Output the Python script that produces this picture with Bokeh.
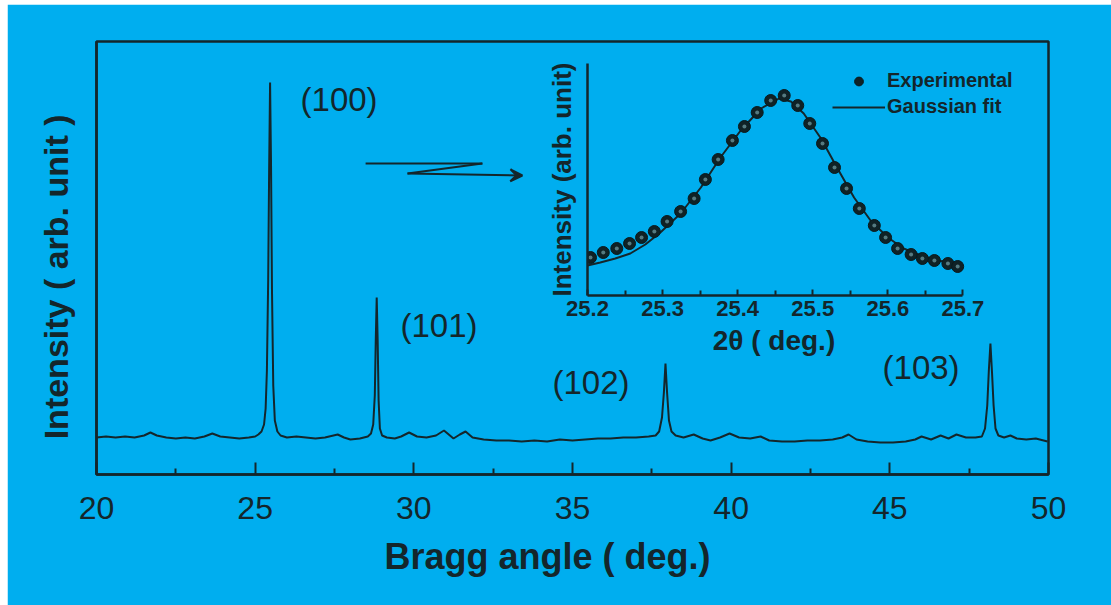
from bokeh.plotting import figure
from bokeh.models import Range1d, FixedTicker, Label, Arrow, VeeHead, Legend, LegendItem
from bokeh.layouts import column
from bokeh.embed import file_html
from bokeh.resources import INLINE

BG = "#00AEEF"
INK = "#14262b"
FONT = "Liberation Sans"
NB = "\u00a0"

# ---------------- main XRD pattern ----------------
two_theta = [20.0, 20.3, 20.6, 20.9, 21.2, 21.5, 21.7, 21.9, 22.2, 22.5, 22.8, 23.1, 23.4, 23.65,
             23.9, 24.2, 24.5, 24.8, 25.0, 25.1, 25.2, 25.28, 25.33, 25.37, 25.41, 25.44, 25.47,
             25.50, 25.53, 25.57, 25.62, 25.70, 25.80, 26.0, 26.3, 26.6, 26.9, 27.2, 27.6, 27.8,
             28.0, 28.3, 28.55, 28.65, 28.72, 28.77, 28.80, 28.83, 28.86, 28.89, 28.93, 29.0,
             29.15, 29.4, 29.6, 29.85, 30.1, 30.4, 30.7, 30.95, 31.25, 31.45, 31.63, 31.85, 32.2,
             32.6, 33.0, 33.4, 33.8, 34.2, 34.6, 35.0, 35.4, 35.8, 36.2, 36.6, 37.0, 37.4, 37.62,
             37.73, 37.82, 37.88, 37.93, 37.98, 38.04, 38.12, 38.25, 38.5, 38.82, 39.1, 39.35,
             39.65, 39.95, 40.25, 40.6, 40.93, 41.2, 41.6, 42.0, 42.4, 42.8, 43.2, 43.5, 43.7,
             43.95, 44.3, 44.7, 45.1, 45.5, 45.8, 46.0, 46.3, 46.6, 46.85, 47.1, 47.4, 47.7, 47.9,
             48.0, 48.07, 48.12, 48.17, 48.22, 48.27, 48.33, 48.42, 48.6, 48.8, 49.0, 49.3, 49.6,
             49.97]
intensity = [37, 38, 37, 38, 37, 39, 42, 39, 37, 36, 37, 36, 38, 41,
             38, 37, 36, 37, 38, 40, 43, 50, 66, 104, 194, 304, 392,
             309, 184, 89, 54, 43, 39, 37, 38, 37, 36, 37, 40, 37,
             35, 36, 38, 41, 50, 79, 134, 177, 134, 74, 46, 39,
             37, 36, 38, 42, 38, 37, 39, 44, 36, 40, 43, 37, 35,
             34, 34, 33, 34, 33, 35, 34, 35, 36, 36, 37, 37, 38, 39,
             43, 57, 82, 111, 82, 54, 43, 39, 37, 40, 36, 34,
             37, 41, 37, 36, 38, 34, 33, 33, 34, 34, 35, 37, 40,
             35, 33, 32, 32, 33, 35, 38, 35, 39, 36, 40, 37, 37, 38,
             46, 69, 104, 131, 102, 69, 46, 39, 37, 39, 36, 35, 36,
             33]
main_ticks = [20, 25, 30, 35, 40, 45, 50]

peak_labels = ["(100)", "(101)", "(102)", "(103)"]
label_x = [26.43, 29.58, 34.37, 44.77]
label_y = [375, 149, 92, 107]

# zig-zag arrow pointing to the inset
arrow_x = [28.48, 32.16, 29.80, 33.42]
arrow_y = [311, 311, 301, 299]

# ---------------- inset: (100) peak ----------------
exp_x = [25.204, 25.221, 25.239, 25.256, 25.272, 25.289, 25.306, 25.324, 25.342, 25.357,
         25.374, 25.393, 25.409, 25.426, 25.444, 25.462, 25.480, 25.496, 25.513, 25.529,
         25.545, 25.562, 25.582, 25.597, 25.613, 25.631, 25.646, 25.662, 25.680, 25.693]
exp_y = [38, 43, 47, 52, 58, 64, 74, 84, 97, 116,
         136, 155, 169, 183, 195, 200, 190, 172, 152, 128,
         107, 87, 70, 58, 47, 41, 37, 35, 32, 29]
fit_x = [25.200, 25.217, 25.237, 25.257, 25.277, 25.297, 25.324, 25.351, 25.377, 25.404,
         25.431, 25.455, 25.471, 25.488, 25.511, 25.533, 25.555, 25.577, 25.600, 25.621,
         25.644, 25.666, 25.693]
fit_y = [30, 33, 37, 42, 51, 63, 82, 108, 138, 165,
         187, 197, 194, 182, 157, 127, 98, 75, 58, 47,
         40, 35, 32]
inset_ticks = [25.2, 25.3, 25.4, 25.5, 25.6, 25.7]

# borders (column aligns left/right borders of its children, so keep them equal)
B_L, B_R = 89, 63

# ================= main figure =================
p = figure(width=1104, height=601, x_range=Range1d(20, 50), y_range=Range1d(0, 433),
           output_backend="svg", toolbar_location=None,
           min_border_left=B_L, min_border_right=B_R, min_border_top=37, min_border_bottom=131,
           background_fill_color=BG, border_fill_color=BG)
p.grid.visible = False
p.outline_line_color = INK
p.outline_line_width = 2.5

xa = p.xaxis[0]
xa.ticker = FixedTicker(ticks=main_ticks,
                        minor_ticks=[t + 2.5 for t in main_ticks[:-1]])
xa.axis_line_color = INK
xa.axis_line_width = 2.5
xa.major_tick_line_color = INK
xa.major_tick_line_width = 2
xa.minor_tick_line_color = INK
xa.minor_tick_line_width = 2
xa.major_tick_in = 12
xa.major_tick_out = 0
xa.minor_tick_in = 6
xa.minor_tick_out = 0
xa.major_label_text_font = FONT
xa.major_label_text_font_size = "32px"
xa.major_label_text_color = INK
xa.major_label_standoff = 22
xa.axis_label = "Bragg angle  ( deg.)" + NB * 4
xa.axis_label_text_font = FONT
xa.axis_label_text_font_size = "36px"
xa.axis_label_text_font_style = "bold"
xa.axis_label_text_color = INK
xa.axis_label_standoff = 14

ya = p.yaxis[0]
ya.ticker = FixedTicker(ticks=[])
ya.axis_line_color = INK
ya.axis_line_width = 2.5
ya.major_label_text_font_size = "0px"
ya.axis_label = "Intensity ( arb. unit )" + NB * 4
ya.axis_label_text_font = FONT
ya.axis_label_text_font_size = "34px"
ya.axis_label_text_font_style = "bold"
ya.axis_label_text_color = INK
ya.axis_label_standoff = 22

p.line(two_theta, intensity, line_color=INK, line_width=2)

for t, lx, ly in zip(peak_labels, label_x, label_y):
    p.add_layout(Label(x=lx, y=ly, text=t, text_baseline="middle", text_align="left",
                       text_font=FONT, text_font_size="33px", text_color=INK))

for i in range(len(arrow_x) - 1):
    head = VeeHead(size=12, line_color=INK, fill_color=INK, line_width=2) if i == len(arrow_x) - 2 else None
    p.add_layout(Arrow(x_start=arrow_x[i], y_start=arrow_y[i], x_end=arrow_x[i + 1], y_end=arrow_y[i + 1],
                       line_color=INK, line_width=2, end=head))

# ================= inset figure =================
IN_T, IN_B = 8, 70
ins = figure(width=B_L + 443 + B_R, height=IN_T + 232 + IN_B,
             x_range=Range1d(25.2, 25.79), y_range=Range1d(0, 232),
             output_backend="svg", toolbar_location=None,
             min_border_left=B_L, min_border_right=B_R, min_border_top=IN_T, min_border_bottom=IN_B,
             background_fill_alpha=0, border_fill_alpha=0)
ins.grid.visible = False
ins.outline_line_color = None

ixa = ins.xaxis[0]
ixa.bounds = (25.2, 25.7)
ixa.ticker = FixedTicker(ticks=inset_ticks,
                         minor_ticks=[round(t + 0.05, 2) for t in inset_ticks[:-1]])
ixa.axis_line_color = INK
ixa.axis_line_width = 2.5
ixa.major_tick_line_color = INK
ixa.major_tick_line_width = 2
ixa.minor_tick_line_color = INK
ixa.minor_tick_line_width = 2
ixa.major_tick_in = 6
ixa.major_tick_out = 0
ixa.minor_tick_in = 5
ixa.minor_tick_out = 0
ixa.major_label_text_font = FONT
ixa.major_label_text_font_size = "22px"
ixa.major_label_text_font_style = "bold"
ixa.major_label_text_color = INK
ixa.major_label_standoff = 5
ixa.axis_label = "2θ  ( deg.)" + NB * 8
ixa.axis_label_text_font = FONT
ixa.axis_label_text_font_size = "28px"
ixa.axis_label_text_font_style = "bold"
ixa.axis_label_text_color = INK
ixa.axis_label_standoff = 6

iya = ins.yaxis[0]
iya.ticker = FixedTicker(ticks=[])
iya.axis_line_color = INK
iya.axis_line_width = 2.5
iya.major_label_text_font_size = "0px"
iya.axis_label = "Intensity (arb. unit)"
iya.axis_label_text_font = FONT
iya.axis_label_text_font_size = "26px"
iya.axis_label_text_font_style = "bold"
iya.axis_label_text_color = INK
iya.axis_label_standoff = 11

fit_r = ins.line(fit_x, fit_y, line_color=INK, line_width=2)
exp_r = ins.scatter(exp_x, exp_y, size=12, marker="circle", fill_color="#0f2226",
                    line_color="#0a1a1d", line_width=1)
hi_r = ins.scatter(exp_x, exp_y, size=4, marker="circle", fill_color="#557a80",
                   line_color=None)

legend = Legend(items=[LegendItem(label="Experimental", renderers=[exp_r]),
                       LegendItem(label="Gaussian fit", renderers=[fit_r])],
                location=(245, 177), orientation="vertical",
                background_fill_alpha=0, border_line_color=None,
                label_text_font=FONT, label_text_font_size="20px",
                label_text_font_style="bold", label_text_color=INK,
                glyph_width=53, glyph_height=22, label_standoff=2, spacing=3,
                padding=0, margin=0, label_height=22)
ins.add_layout(legend)

# inset frame's left edge sits at x = 587 px, top at y = 63 px of the page
ins.styles = {"position": "absolute", "left": f"{587 - 7 - B_L}px", "top": f"{63 - 4 - IN_T}px"}
root = column(p, ins)
root.styles = {"position": "relative", "margin-left": "7px", "margin-top": "4px"}

open("out.html", "w").write(file_html(root, INLINE))
